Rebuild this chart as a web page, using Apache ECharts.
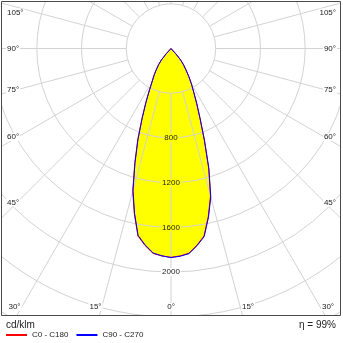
<!DOCTYPE html>
<html>
<head>
<meta charset="utf-8">
<script src="https://cdn.jsdelivr.net/npm/echarts@6/dist/echarts.min.js"></script>
<style>
html,body{margin:0;padding:0;background:#fff;}
#chart{width:343px;height:343px;}
</style>
</head>
<body>
<div id="chart"></div>
<script>
// ---- data (cd/klm), gamma measured from nadir (0° = straight down) ----
const gammaDeg = [0, 2.5, 5, 7.5, 10, 12.5, 15, 17.5, 20, 22.5, 25, 27.5, 30, 32.5, 35, 37.5, 40, 42.5, 45,
                  50, 55, 60, 65, 70, 75, 80, 85, 90];
const c0   = [1868, 1857, 1838, 1775, 1702, 1540, 1366, 1118, 870, 677, 543, 438, 364, 294, 231, 183, 134, 60, 0,
              0, 0, 0, 0, 0, 0, 0, 0, 0];
const c180 = [1868, 1858, 1840, 1778, 1703, 1515, 1322, 1078, 870, 678, 533, 418, 336, 282, 228, 184, 135, 60, 0,
              0, 0, 0, 0, 0, 0, 0, 0, 0];
const c90  = [1870, 1860, 1842, 1780, 1708, 1548, 1375, 1128, 878, 683, 548, 442, 368, 297, 234, 186, 136, 62, 0,
              0, 0, 0, 0, 0, 0, 0, 0, 0];
const c270 = [1870, 1856, 1836, 1772, 1697, 1508, 1313, 1070, 862, 672, 528, 414, 332, 279, 225, 181, 133, 58, 0,
              0, 0, 0, 0, 0, 0, 0, 0, 0];
const seriesNames = ['C0 - C180', 'C90 - C270'];
const radiusLabels = [800, 1200, 1600, 2000];
const angleLabelsBottom = ['30°', '15°', '0°', '15°', '30°'];
const angleLabelsSide = ['45°', '60°', '75°', '90°', '105°'];
const unitText = 'cd/klm';
const efficiencyText = 'η = 99%';

// ---- layout ----
const FONT = 'Liberation Sans, Arial, sans-serif';
const CX = 171, CY = 48.5;
const PX_PER_UNIT = 0.1118;
const R_MIN_VAL = 400, R_MAX_VAL = 2800;
const GRID = '#d3d3d3';

// right half uses the first plane, left half the opposite plane
function curve(rightVals, leftVals) {
  const pts = [];
  for (let i = gammaDeg.length - 1; i >= 0; i--) pts.push([leftVals[i], 360 - gammaDeg[i]]);
  for (let i = 0; i < gammaDeg.length; i++) pts.push([rightVals[i], gammaDeg[i]]);
  return pts;
}
const redPts = curve(c0, c180);
const bluePts = curve(c90, c270);
const peak = Math.min(c0[0], c90[0]);

const chart = echarts.init(document.getElementById('chart'), null, {renderer: 'canvas'});

const sideY = [202.7, 137, 90, 49, 12.7];
const bottomX = [14.5, 95.5, 171, 248, 328];
const txt = [];
angleLabelsSide.forEach((t, i) => {
  txt.push({text: t, x: 6, y: sideY[i], align: 'left'});
  txt.push({text: t, x: 337, y: sideY[i], align: 'right'});
});
angleLabelsBottom.forEach((t, i) => {
  txt.push({text: t, x: bottomX[i], y: 307, align: 'center'});
});

const graphicEls = [
  {type: 'rect', silent: true, z: 100, shape: {x: 0, y: 316, width: 343, height: 27}, style: {fill: '#fff'}},
  {type: 'rect', silent: true, z: 100, shape: {x: 0, y: 0, width: 1, height: 343}, style: {fill: '#fff'}},
  {type: 'rect', silent: true, z: 100, shape: {x: 341, y: 0, width: 2, height: 343}, style: {fill: '#fff'}},
  {type: 'rect', silent: true, z: 100, shape: {x: 0, y: 0, width: 343, height: 1}, style: {fill: '#fff'}},
  {type: 'rect', silent: true, z: 101, shape: {x: 1.5, y: 1.5, width: 339, height: 314},
   style: {fill: 'none', stroke: '#4a4a4a', lineWidth: 1}},
  {type: 'text', silent: true, z: 102, x: 6, y: 325,
   style: {text: unitText, font: '10px ' + FONT, fill: '#222', align: 'left', verticalAlign: 'middle'}},
  {type: 'text', silent: true, z: 102, x: 336, y: 325,
   style: {text: efficiencyText, font: '10px ' + FONT, fill: '#222', align: 'right', verticalAlign: 'middle'}}
];
txt.forEach(t => graphicEls.push({
  type: 'text', silent: true, z: 102, x: t.x, y: t.y,
  style: {text: t.text, font: '8px ' + FONT, fill: '#222', align: t.align, verticalAlign: 'middle',
          backgroundColor: '#fff', padding: [0, 1]}
}));

const option = {
  animation: false,
  backgroundColor: '#fff',
  textStyle: {fontFamily: FONT},
  polar: [
    {center: [CX, CY], radius: [R_MIN_VAL * PX_PER_UNIT, R_MAX_VAL * PX_PER_UNIT]},
    {center: [CX, CY], radius: [0, R_MAX_VAL * PX_PER_UNIT]}
  ],
  angleAxis: [
    {polarIndex: 0, type: 'value', min: 0, max: 360, interval: 15, startAngle: 270, clockwise: false, z: 3,
     axisLine: {show: false}, axisTick: {show: false}, axisLabel: {show: false},
     splitLine: {show: true, lineStyle: {color: GRID, width: 1}}},
    {polarIndex: 1, type: 'value', min: 0, max: 360, startAngle: 270, clockwise: false, show: false}
  ],
  radiusAxis: [
    {polarIndex: 0, type: 'value', min: R_MIN_VAL, max: R_MAX_VAL, interval: 400, z: 3,
     axisLine: {show: false}, axisTick: {show: false},
     splitLine: {show: true, lineStyle: {color: GRID, width: 1}},
     axisLabel: {
       show: true, margin: 0, align: 'center', verticalAlign: 'middle',
       formatter: v => radiusLabels.indexOf(v) >= 0 ? (v < peak ? '{y|' + v + '}' : '{w|' + v + '}') : '',
       rich: {
         y: {backgroundColor: '#ffff00', color: '#222', fontSize: 8, fontFamily: FONT, padding: [0, 1]},
         w: {backgroundColor: '#ffffff', color: '#222', fontSize: 8, fontFamily: FONT, padding: [0, 1]}
       }
     }},
    {polarIndex: 1, type: 'value', min: 0, max: R_MAX_VAL, show: false}
  ],
  legend: {
    data: seriesNames, left: 6, top: 331, padding: 0, icon: 'rect', itemWidth: 21, itemHeight: 2,
    itemGap: 8, selectedMode: false, z: 200,
    textStyle: {fontSize: 8, color: '#222', fontFamily: FONT}
  },
  series: [
    {type: 'line', name: 'fillA', coordinateSystem: 'polar', polarIndex: 1, data: redPts, symbol: 'none',
     lineStyle: {width: 0, opacity: 0}, areaStyle: {color: '#ffff00', opacity: 1}, z: 1, silent: true, clip: false},
    {type: 'line', name: 'fillB', coordinateSystem: 'polar', polarIndex: 1, data: bluePts, symbol: 'none',
     lineStyle: {width: 0, opacity: 0}, areaStyle: {color: '#ffff00', opacity: 1}, z: 1, silent: true, clip: false},
    {type: 'line', name: seriesNames[0], coordinateSystem: 'polar', polarIndex: 1, data: redPts, symbol: 'none',
     lineStyle: {color: '#ff0000', width: 1}, itemStyle: {color: '#ff0000'}, z: 5, clip: false},
    {type: 'line', name: seriesNames[1], coordinateSystem: 'polar', polarIndex: 1, data: bluePts, symbol: 'none',
     lineStyle: {color: '#0000ff', width: 1}, itemStyle: {color: '#0000ff'}, z: 6, clip: false}
  ],
  graphic: {elements: graphicEls}
};
chart.setOption(option);
</script>
</body>
</html>
